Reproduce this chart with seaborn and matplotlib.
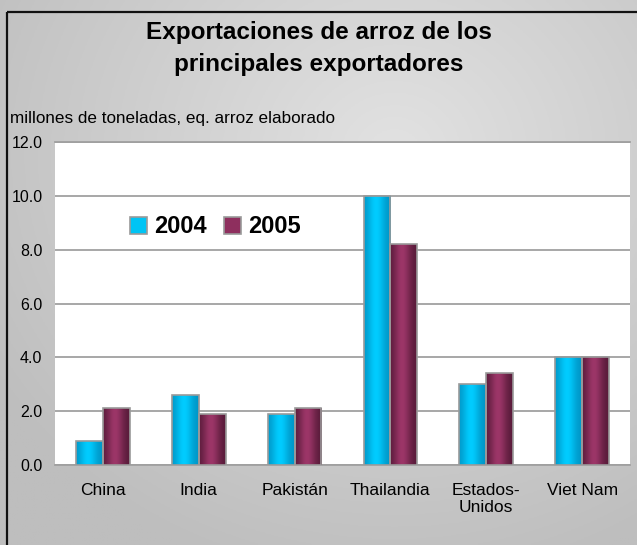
import numpy as np
import pandas as pd
import matplotlib
matplotlib.use("Agg")
import matplotlib.pyplot as plt
import seaborn as sns
from matplotlib.colors import to_rgb

# ---- data ----
paises = ["China", "India", "Pakistán", "Thailandia", "Estados-\nUnidos", "Viet Nam"]
anios = ["2004", "2005"]
valores_2004 = [0.9, 2.6, 1.9, 10.0, 3.0, 4.0]
valores_2005 = [2.1, 1.9, 2.1, 8.2, 3.4, 4.0]
yticks = [0.0, 2.0, 4.0, 6.0, 8.0, 10.0, 12.0]

titulo = "Exportaciones de arroz de los\nprincipales exportadores"
subtitulo = "millones de toneladas, eq. arroz elaborado"

df = pd.DataFrame({
    "pais": paises * 2,
    "anio": [anios[0]] * len(paises) + [anios[1]] * len(paises),
    "valor": valores_2004 + valores_2005,
})

sns.set_theme(style="white")
plt.rcParams["font.family"] = ["Liberation Sans", "DejaVu Sans"]
for k in ["text.color", "axes.labelcolor", "xtick.color", "ytick.color"]:
    plt.rcParams[k] = "black"

W, H = 637, 545
fig = plt.figure(figsize=(W / 100, H / 100), dpi=100)

# background gradient
bg = fig.add_axes([0, 0, 1, 1], zorder=-10)
bg.set_axis_off()
yy, xx = np.mgrid[0:1:200j, 0:1:240j]
r = np.sqrt(((xx - 0.62) / 0.75) ** 2 + ((yy - 0.72) / 0.8) ** 2)
r = np.clip(r, 0, 1)
light = np.array(to_rgb("#e2e2e2"))
dark = np.array(to_rgb("#bebebe"))
img = light[None, None, :] * (1 - r[..., None]) + dark[None, None, :] * r[..., None]
bg.imshow(img, extent=[0, 1, 0, 1], origin="lower", aspect="auto")
bg.set_xlim(0, 1)
bg.set_ylim(0, 1)
# outer border (left & top)
bg.plot([7 / W, 7 / W], [0, 1 - 12 / H], color="#111111", lw=1.6, solid_capstyle="butt")
bg.plot([7 / W, 1], [1 - 12 / H, 1 - 12 / H], color="#111111", lw=1.6, solid_capstyle="butt")

ax = fig.add_axes([55 / W, 80 / H, 575 / W, 323 / H])
ax.set_facecolor("white")

c04 = "#00c4f4"
c05 = "#8e2f5e"
sns.barplot(data=df, x="pais", y="valor", hue="anio", palette=[c04, c05],
            width=0.56, edgecolor="#9a9a9a", linewidth=1.2, ax=ax, legend=True,
            zorder=3)

# cylinder-like gradients on bars
grads = [("#0094c4", "#00ccff"), ("#561a38", "#9c3668")]
t = np.linspace(0, 1, 64)
prof = np.exp(-((t - 0.45) / 0.32) ** 2)
for cont, (dk, lt) in zip(ax.containers, grads):
    dk_, lt_ = np.array(to_rgb(dk)), np.array(to_rgb(lt))
    g = dk_[None, :] * (1 - prof[:, None]) + lt_[None, :] * prof[:, None]
    g = g[None, :, :]
    for p in cont.patches:
        x0, w, h = p.get_x(), p.get_width(), p.get_height()
        im = ax.imshow(g, extent=[x0, x0 + w, 0, h], aspect="auto", zorder=3.5,
                       origin="lower")
        im.set_clip_path(p)
        p.set_zorder(4)
        p.set_facecolor("none")

ax.set_xlim(-0.5, len(paises) - 0.5)
ax.set_ylim(0, 12)
ax.set_yticks(yticks)
ax.set_yticklabels([f"{v:.1f}" for v in yticks], fontsize=11.5, color="black")
ax.tick_params(axis="y", length=0, pad=9)
ax.tick_params(axis="x", length=0, pad=13, labelsize=12.5, labelcolor="black")
ax.set_xlabel("")
ax.set_ylabel("")
ax.yaxis.grid(True, color="#a0a0a0", lw=1.3, zorder=0)
ax.set_axisbelow(True)
for s in ["left", "right"]:
    ax.spines[s].set_visible(False)
ax.spines["top"].set_color("#a0a0a0")
ax.spines["bottom"].set_color("#a0a0a0")
ax.spines["top"].set_linewidth(1.3)
ax.spines["bottom"].set_linewidth(1.3)

handles, labels = ax.get_legend_handles_labels()
ax.get_legend().remove()
leg = ax.legend(handles, labels, loc="center left", bbox_to_anchor=(0.13, 0.737),
                ncol=2, frameon=False, prop={"weight": "bold", "size": 17},
                handlelength=0.75, handleheight=0.75, handletextpad=0.3,
                columnspacing=0.7, borderpad=0, borderaxespad=0)
for hd, col in zip(leg.legend_handles, [c04, c05]):
    hd.set_facecolor(col)
    hd.set_edgecolor("#9a9a9a")
for tx in leg.get_texts():
    tx.set_color("black")

fig.text(0.5, 1 - 48 / H, titulo, ha="center", va="center", fontsize=17.5,
         fontweight="bold", linespacing=1.5, color="black")
fig.text(10 / W, 1 - 118 / H, subtitulo, ha="left", va="center", fontsize=12.3,
         color="black")

fig.savefig("out.png", dpi=100)
